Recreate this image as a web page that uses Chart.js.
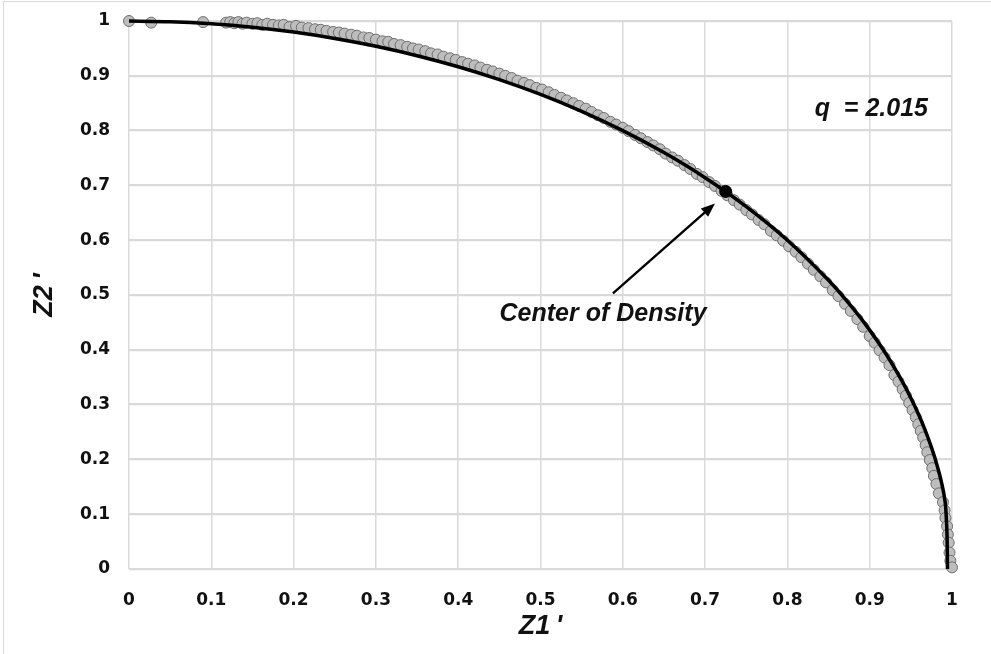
<!DOCTYPE html>
<html>
<head>
<meta charset="UTF-8">
<title>z1' vs z2'</title>
<script src="https://cdn.jsdelivr.net/npm/chart.js@4.4.1/dist/chart.umd.min.js"></script>
<style>
  html, body { margin: 0; padding: 0; background: #fff; overflow: hidden; }
  #frame { position: absolute; left: 3px; top: 1px; width: 1100px; height: 800px; border: 1px solid #d9d9d9; }
  #holder { position: absolute; left: 0; top: 0; width: 991px; height: 654px; }
</style>
</head>
<body>
<div id="frame"></div>
<div id="holder">
  <canvas id="chart" width="991" height="654"></canvas>
</div>

<script>
  var pointsX = [0.000, 0.027, 0.090, 0.118, 0.123, 0.128, 0.133, 0.138, 0.143, 0.150, 0.156, 0.162, 0.168, 0.175,
    0.182, 0.188, 0.195, 0.203, 0.210, 0.218, 0.226, 0.233, 0.240, 0.248, 0.255, 0.262, 0.270, 0.277, 0.285, 0.292,
    0.300, 0.308, 0.315, 0.322, 0.330, 0.338, 0.345, 0.352, 0.360, 0.367, 0.375, 0.382, 0.390, 0.397, 0.405, 0.412,
    0.420, 0.427, 0.435, 0.442, 0.450, 0.457, 0.465, 0.472, 0.480, 0.487, 0.495, 0.502, 0.510, 0.517, 0.525, 0.532,
    0.540, 0.547, 0.555, 0.562, 0.570, 0.577, 0.585, 0.592, 0.600, 0.607, 0.615, 0.622, 0.630, 0.637, 0.645, 0.652,
    0.660, 0.667, 0.675, 0.682, 0.690, 0.697, 0.705, 0.712, 0.720, 0.727, 0.735, 0.742, 0.750, 0.757, 0.765, 0.772,
    0.780, 0.787, 0.795, 0.802, 0.810, 0.817, 0.825, 0.832, 0.840, 0.847, 0.855, 0.862, 0.870, 0.877, 0.885, 0.892,
    0.900, 0.906, 0.912, 0.918, 0.924, 0.930, 0.935, 0.940, 0.944, 0.948, 0.952, 0.956, 0.959, 0.962, 0.965, 0.968,
    0.970, 0.973, 0.976, 0.978, 0.981, 0.984, 0.989, 0.991, 0.992, 0.994, 0.995, 0.996, 0.997, 0.998, 1.000];
  var pointsY = [1.000, 0.997, 0.998, 0.997, 0.998, 0.996, 0.998, 0.995, 0.997, 0.995, 0.996, 0.993, 0.995, 0.993,
    0.992, 0.993, 0.989, 0.991, 0.988, 0.987, 0.985, 0.984, 0.982, 0.980, 0.979, 0.977, 0.975, 0.973, 0.970, 0.969,
    0.966, 0.963, 0.962, 0.958, 0.956, 0.953, 0.950, 0.948, 0.945, 0.941, 0.939, 0.935, 0.932, 0.929, 0.925, 0.922,
    0.919, 0.915, 0.911, 0.908, 0.904, 0.900, 0.896, 0.891, 0.887, 0.883, 0.878, 0.875, 0.870, 0.865, 0.860, 0.855,
    0.850, 0.845, 0.840, 0.834, 0.828, 0.823, 0.816, 0.811, 0.805, 0.799, 0.792, 0.786, 0.779, 0.773, 0.766, 0.758,
    0.751, 0.745, 0.737, 0.730, 0.721, 0.715, 0.706, 0.699, 0.690, 0.682, 0.673, 0.665, 0.655, 0.647, 0.637, 0.629,
    0.617, 0.609, 0.599, 0.589, 0.579, 0.569, 0.557, 0.546, 0.534, 0.523, 0.509, 0.498, 0.484, 0.471, 0.456, 0.442,
    0.425, 0.413, 0.399, 0.386, 0.372, 0.354, 0.342, 0.328, 0.316, 0.303, 0.290, 0.277, 0.264, 0.252, 0.240, 0.226,
    0.213, 0.199, 0.184, 0.170, 0.155, 0.138, 0.122, 0.107, 0.093, 0.078, 0.063, 0.048, 0.030, 0.015, 0.003];

  // fitted curve, q = 2.015
  var curveX = [0, 0.05, 0.1, 0.15, 0.2, 0.25, 0.3, 0.35, 0.4, 0.45, 0.5, 0.55, 0.6, 0.65, 0.7, 0.75, 0.8, 0.85,
    0.88, 0.9, 0.92, 0.94, 0.95, 0.96, 0.97, 0.975, 0.98, 0.985, 0.988, 0.99, 0.992, 0.993, 0.994, 0.9945];
  var curveY = [1, 0.9988, 0.995, 0.9887, 0.9798, 0.9682, 0.9539, 0.9367, 0.9165, 0.893, 0.866, 0.8352, 0.8, 0.7599,
    0.7141, 0.6614, 0.6, 0.5268, 0.475, 0.4359, 0.3919, 0.3412, 0.3122, 0.28, 0.2431, 0.222, 0.199, 0.172, 0.153,
    0.138, 0.118, 0.095, 0.06, 0.0];

  var centerX = [0.725];
  var centerY = [0.689];

  var xTicks = [0, 0.1, 0.2, 0.3, 0.4, 0.5, 0.6, 0.7, 0.8, 0.9, 1];
  var xTickLabels = ['0', '0.1', '0.2', '0.3', '0.4', '0.5', '0.6', '0.7', '0.8', '0.9', '1'];
  var yTicks = [0, 0.1, 0.2, 0.3, 0.4, 0.5, 0.6, 0.7, 0.8, 0.9, 1];
  var yTickLabels = ['0', '0.1', '0.2', '0.3', '0.4', '0.5', '0.6', '0.7', '0.8', '0.9', '1'];

  // annotation anchors, in data units
  var arrowFrom = [0.588, 0.503];
  var arrowTo = [0.712, 0.667];
  var centerLabel = 'Center of Density';
  var centerLabelAt = [0.576, 0.466];
  var qLabel = 'q  = 2.015';
  var qLabelAt = [0.902, 0.839];

  function toXY(xs, ys) {
    return xs.map(function (x, i) { return { x: x, y: ys[i] }; });
  }

  var annotations = {
    id: 'annotations',
    afterDatasetsDraw: function (chart) {
      var ctx = chart.ctx;
      var sx = chart.scales.x, sy = chart.scales.y;
      var x1 = sx.getPixelForValue(arrowFrom[0]), y1 = sy.getPixelForValue(arrowFrom[1]);
      var x2 = sx.getPixelForValue(arrowTo[0]), y2 = sy.getPixelForValue(arrowTo[1]);
      var ang = Math.atan2(y2 - y1, x2 - x1);
      var head = 14, half = 5.5;

      ctx.save();
      ctx.strokeStyle = '#000';
      ctx.fillStyle = '#000';
      ctx.lineWidth = 2.4;
      ctx.beginPath();
      ctx.moveTo(x1, y1);
      ctx.lineTo(x2 - Math.cos(ang) * head * 0.8, y2 - Math.sin(ang) * head * 0.8);
      ctx.stroke();
      ctx.beginPath();
      ctx.moveTo(x2, y2);
      ctx.lineTo(x2 - Math.cos(ang) * head + Math.sin(ang) * half, y2 - Math.sin(ang) * head - Math.cos(ang) * half);
      ctx.lineTo(x2 - Math.cos(ang) * head - Math.sin(ang) * half, y2 - Math.sin(ang) * head + Math.cos(ang) * half);
      ctx.closePath();
      ctx.fill();

      ctx.font = 'italic bold 25px "Liberation Sans", Arial, sans-serif';
      ctx.textAlign = 'center';
      ctx.textBaseline = 'middle';
      ctx.fillStyle = '#111';
      ctx.fillText(centerLabel, sx.getPixelForValue(centerLabelAt[0]), sy.getPixelForValue(centerLabelAt[1]));
      ctx.fillText(qLabel, sx.getPixelForValue(qLabelAt[0]), sy.getPixelForValue(qLabelAt[1]));
      ctx.restore();
    }
  };

  var tickFont = { family: '"DejaVu Sans", Verdana, sans-serif', size: 17, weight: 'bold' };
  var titleFont = { family: '"Liberation Sans", Arial, sans-serif', size: 27, weight: 'bold', style: 'italic', lineHeight: 1 };

  var config = {
    type: 'scatter',
    data: {
      datasets: [
        {
          label: 'points',
          data: toXY(pointsX, pointsY),
          backgroundColor: '#bdbdbd',
          borderColor: '#6f6f6f',
          borderWidth: 1,
          pointRadius: 5.5,
          clip: false,
          order: 3
        },
        {
          label: 'fit',
          type: 'line',
          data: toXY(curveX, curveY),
          borderColor: '#000',
          borderWidth: 3.5,
          pointRadius: 0,
          tension: 0.2,
          fill: false,
          clip: false,
          order: 2
        },
        {
          label: 'center',
          data: toXY(centerX, centerY),
          backgroundColor: '#000',
          borderColor: '#000',
          pointRadius: 6,
          clip: false,
          order: 1
        }
      ]
    },
    options: {
      responsive: false,
      animation: false,
      layout: { padding: { top: 21, right: 39, left: 0, bottom: 0 } },
      plugins: { legend: { display: false }, tooltip: { enabled: false } },
      scales: {
        x: {
          type: 'linear',
          min: 0,
          max: 1,
          afterBuildTicks: function (s) { s.ticks = xTicks.map(function (v) { return { value: v }; }); },
          afterFit: function (s) { s.height = 85; s.paddingLeft = 0; s.paddingRight = 0; },
          ticks: {
            callback: function (v, i) { return xTickLabels[i]; },
            font: tickFont,
            color: '#111',
            padding: 21,
            maxRotation: 0
          },
          grid: { color: '#dadada', lineWidth: 1.5, drawTicks: false },
          border: { display: false },
          title: { display: true, text: "Z1\u2009'", font: titleFont, color: '#111', padding: { top: 0, bottom: 14 } }
        },
        y: {
          type: 'linear',
          min: 0,
          max: 1,
          afterBuildTicks: function (s) { s.ticks = yTicks.map(function (v) { return { value: v }; }); },
          afterFit: function (s) { s.width = 129; s.paddingTop = 0; s.paddingBottom = 0; },
          ticks: {
            callback: function (v, i) { return yTickLabels[i]; },
            font: tickFont,
            color: '#111',
            padding: 19
          },
          grid: { color: '#d9d9d9', lineWidth: 2.2, drawTicks: false },
          border: { display: false },
          title: { display: true, text: "Z2\u2009'", font: titleFont, color: '#111', padding: { top: 31, bottom: 0 } }
        }
      }
    },
    plugins: [annotations]
  };

  window.onload = function () {
    var ctx = document.getElementById('chart').getContext('2d');
    window.myChart = new Chart(ctx, config);
  };
</script>
</body>
</html>
